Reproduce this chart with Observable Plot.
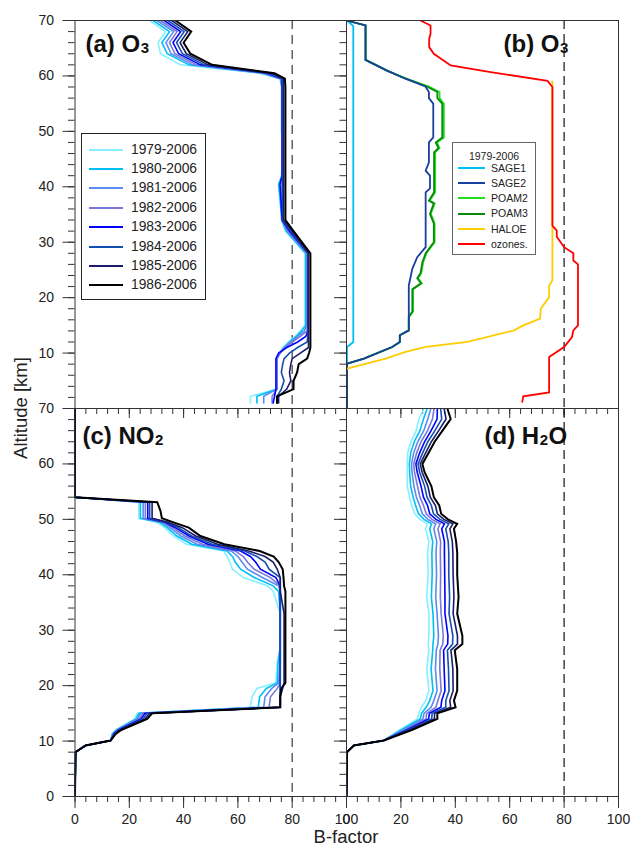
<!DOCTYPE html>
<html><head><meta charset="utf-8">
<script src="https://cdn.jsdelivr.net/npm/d3@7"></script>
<script src="https://cdn.jsdelivr.net/npm/@observablehq/plot@0.6"></script>
<style>
body{margin:0;background:#fff;font-family:"Liberation Sans",Arial,sans-serif;}
#chart{position:relative;width:633px;height:858px;overflow:hidden;}
.lg{position:absolute;background:#fff;box-sizing:border-box;}
.lg .sw{position:absolute;}
.lg .tx{position:absolute;white-space:nowrap;line-height:1;}
.axl{position:absolute;font-size:18.5px;color:#222;white-space:nowrap;line-height:1;}
</style></head>
<body><div id="chart"></div>
<script>
// ---------------- DATA ----------------
const xMajor = [0, 20, 40, 60, 80, 100];
const xMinor = [0, 4, 8, 12, 16, 20, 24, 28, 32, 36, 40, 44, 48, 52, 56, 60, 64, 68, 72, 76, 80, 84, 88, 92, 96, 100];
const yMajorTop = [10, 20, 30, 40, 50, 60, 70];
const yMajorBottom = [0, 10, 20, 30, 40, 50, 60, 70];
const yMinor = [0, 2, 4, 6, 8, 10, 12, 14, 16, 18, 20, 22, 24, 26, 28, 30, 32, 34, 36, 38, 40, 42, 44, 46, 48, 50, 52, 54, 56, 58, 60, 62, 64, 66, 68, 70];
const refLine = [80];

const periods = ["1979-2006", "1980-2006", "1981-2006", "1982-2006", "1983-2006", "1984-2006", "1985-2006", "1986-2006"];
const periodColors = ["#86f0ff", "#00bff2", "#5a8cf0", "#7a78d8", "#0000ff", "#1450b0", "#1c1c6e", "#000000"];

// (a) O3 — altitude grid and B-factor per period
const altA = [70, 68, 66, 64, 62, 60.5, 59.5, 58, 50, 48, 42, 40.5, 34, 32, 28, 15, 14, 13, 12, 11, 10, 9, 8, 6.5, 5, 3.5, 2.2, 1];
const a1979 = [27.5, 33.3, 30.6, 31.5, 38.8, 68, 75.6, 76, 76, 76.8, 76, 76, 76, 77.5, 84.6, 84.6, 83, 81, 78.5, 76.5, 75.5, 74.4, 74.4, 74.4, 74.4, 74.4, 64.6, 64.6];
const a1980 = [28.8, 34.8, 32, 34, 42, 69, 75.6, 76.2, 76.2, 76.2, 76.2, 75, 76.2, 77.8, 85, 85, 83.5, 81.5, 79, 77, 75.5, 74.4, 74.4, 74.4, 74.4, 74.4, 67, 67];
const a1981 = [30.2, 36.3, 33.5, 35.4, 43.4, 69.5, 75.8, 76.2, 76.2, 76.2, 76.2, 76.2, 76.2, 78.2, 85.3, 85.3, 84.5, 82, 79.5, 77, 75.5, 74.4, 74.4, 74.4, 74.4, 74.4, 69.5, 69.5];
const a1982 = [31.5, 37.6, 34.8, 36.8, 44.8, 70, 76, 76.3, 76.3, 76.3, 76.3, 76.3, 76.3, 78.5, 85.5, 85.5, 85.5, 83, 80, 77.5, 75.5, 74.4, 74.4, 74.4, 74.4, 74.4, 72.6, 72.6];
const a1983 = [32.9, 38.9, 36.1, 38.2, 46.2, 70.8, 76.2, 76.3, 76.3, 76.3, 76.3, 75.5, 76.3, 79, 85.8, 85.8, 85.8, 85, 82, 78, 75, 74, 74, 74, 74, 74, 73.5, 73];
const a1984 = [34.2, 40.2, 37.4, 39.6, 47.6, 71.5, 76.3, 76.5, 76.5, 76.5, 76.5, 76.5, 76.5, 79.5, 85.8, 85.8, 85.8, 85.8, 85.5, 82, 79, 77, 76.5, 76, 77, 76, 74.5, 74.5];
const a1985 = [35.6, 41.5, 38.7, 41, 49, 72.5, 76.8, 76.8, 76.8, 76.8, 76.8, 76.8, 76.8, 80, 86, 86, 86, 86, 86, 86, 83, 80, 79.5, 79, 79.5, 78, 75, 75];
const a1986 = [37, 42.8, 40, 42.5, 50.5, 73.5, 77.3, 77.5, 77.5, 77.5, 77.5, 77.5, 77.5, 80.5, 86.7, 86.7, 86.7, 86.7, 86.7, 86.7, 86.2, 85.5, 82.4, 81.8, 80.5, 80.5, 74.4, 74.4];

// (b) O3 by instrument, 1979-2006
const instruments = ["SAGE1", "SAGE2", "POAM2", "POAM3", "HALOE", "ozones."];
const instrumentColors = ["#00bff2", "#1a3fa0", "#22dd22", "#0a8a0a", "#ffcc00", "#ff0000"];
const sage1Alt = [70, 69, 12, 11.1, 0];
const sage1Val = [0.2, 2.5, 2.5, 0.2, 0.2];
const sage2Alt = [70, 69.1, 62.9, 61, 59.5, 58.1, 57.1, 56, 55, 48.9, 48, 44.4, 42.9, 42, 39.7, 39, 29.1, 27.3, 25.2, 22.2, 14.1, 13.2, 12, 11.1, 9.0, 8.1, 0];
const sage2Val = [0, 7, 7, 14.7, 21.7, 29, 30.3, 30.3, 31.9, 31.9, 30.3, 30.3, 29.1, 30.7, 30.7, 29.1, 29.1, 26, 24.2, 22.9, 22.9, 19.6, 19.6, 16.8, 6.4, 0.2, 0.2];
const poamAlt = [70, 69.1, 62.9, 61, 59.5, 58.1, 57.1, 56, 55, 48.9, 48, 47, 46.2, 39, 37.5, 37, 35.1, 33.4, 30, 28, 26.4, 24.4, 23.5, 22.6, 21.5, 17.5, 16.5, 14.1, 13.2, 12, 11.1, 9, 8.1, 0];
const poam2Val = [0, 7, 7, 14.7, 22, 30.3, 34.2, 34.2, 35.8, 35.8, 33.3, 34.2, 32.6, 32.6, 30.6, 32.4, 31, 32.4, 32.4, 29.4, 28.2, 27.5, 26.3, 27.7, 24.5, 24.5, 22.9, 22.9, 19.6, 19.6, 16.8, 6.4, 0.2, 0.2];
const poam3Val = [0, 7, 7, 14.7, 21.7, 29.5, 33.4, 33.4, 35.2, 35.2, 32.8, 33.8, 32.2, 32.2, 30.3, 32.1, 30.7, 32.1, 32.1, 29.1, 27.9, 27.2, 26, 27.4, 24.2, 24.2, 22.9, 22.9, 19.6, 19.6, 16.8, 6.4, 0.2, 0.2];
const haloeAlt = [59, 33, 23.1, 22.2, 20.1, 18, 16.2, 15, 14.1, 12, 11.1, 10.2, 9, 7.2];
const haloeVal = [75.7, 75.7, 75.7, 74.5, 74.5, 71.4, 71.2, 65, 61.6, 44.4, 29.1, 21.7, 14.4, 0.2];
const sondeAlt = [70, 69.1, 67.6, 66.7, 65.2, 64, 61.9, 60.7, 59.1, 58, 33, 32.1, 31, 29.1, 28, 26.7, 26, 15, 14.1, 12.9, 11.1, 9.3, 2.9, 2.2, 1.2];
const sondeVal = [27.2, 30.9, 30.9, 30.4, 30.4, 32.1, 38.3, 53, 73.9, 75.7, 75.7, 77.3, 77.3, 80, 83.4, 83.4, 85.1, 85.1, 83.4, 82.9, 80, 74.5, 74.5, 65, 64.6];

// (c) NO2
const altC = [70, 54, 53.1, 51.5, 50.2, 49.5, 48.5, 47, 45.5, 44.3, 43.3, 42.3, 41, 39.5, 38, 37, 33, 27, 24, 20.5, 19.5, 18, 16.1, 15, 14, 12, 11.3, 10.1, 9.2, 8, 0];
const c1979 = [0, 0, 23.5, 23.5, 23.5, 30, 33, 36.2, 41, 54.8, 56, 57, 58, 62, 71, 73, 75.6, 75.6, 74.4, 74, 67, 65.2, 64.6, 22.9, 22, 15, 13.6, 13.1, 3.9, 0.2, 0];
const c1980 = [0, 0, 24.1, 24.1, 24.1, 31, 34, 37.5, 43, 56, 58, 59, 61, 66, 73, 75, 75.6, 75.6, 74.8, 74.5, 70.5, 68, 67.5, 23.5, 22.5, 15.3, 13.8, 13.1, 3.9, 0.2, 0];
const c1981 = [0, 0, 25.1, 25.1, 25.1, 32, 35, 39, 45, 57.5, 60, 61.5, 63.5, 69, 75, 75.6, 75.6, 75.6, 75.6, 75, 72.5, 70, 69.5, 24.2, 23, 15.5, 14, 13.1, 3.9, 0.2, 0];
const c1982 = [0, 0, 25.9, 25.9, 25.9, 32.5, 36, 40.5, 47, 59, 62, 63.5, 66, 72, 75.6, 75.6, 75.6, 75.6, 75.6, 75.6, 74.5, 72, 71.5, 25, 23.6, 15.8, 14.2, 13.1, 3.9, 0.2, 0];
const c1983 = [0, 0, 26.8, 26.8, 26.8, 33, 37, 42, 49, 61, 64.6, 66.5, 68.3, 74, 75.6, 75.6, 75.6, 75.6, 75.6, 75.6, 75.6, 75.6, 75.6, 25.8, 24.3, 16, 14.4, 13.1, 3.9, 0.2, 0];
const c1984 = [0, 0, 27.5, 27.5, 27.5, 33.5, 38, 43, 50.5, 62.5, 67, 70, 71.5, 75.6, 75.6, 75.6, 75.6, 75.6, 75.6, 75.6, 75.6, 75.6, 75.6, 26.6, 25, 16.3, 14.6, 13.1, 3.9, 0.2, 0];
const c1985 = [0, 0, 28.4, 28.4, 28.4, 34, 39.5, 44.5, 52.5, 64, 70, 73, 74.5, 75.6, 75.6, 75.6, 77, 77, 77, 77, 76.5, 75.6, 75.6, 27.5, 25.8, 16.6, 14.8, 13.1, 3.9, 0.2, 0];
const c1986 = [0, 0, 30.3, 31.5, 32, 36, 41.9, 46.2, 55, 68, 73.2, 75, 76.5, 76.8, 77, 77.5, 77.5, 77.5, 77.5, 77.5, 76, 75.6, 75.6, 28.4, 26.6, 17, 15, 13.1, 3.9, 0.2, 0];

// (d) H2O
const altD = [70, 68.1, 66, 64, 62, 60, 58.5, 56, 54, 52.5, 51, 50, 49.2, 48.3, 46, 44, 40, 36, 33, 29, 27.5, 26.4, 23, 19.1, 17.3, 16.1, 15, 14, 12, 10.1, 9.2, 8, 0];
const d1979 = [28.5, 26.6, 25.6, 23.7, 22.5, 22.3, 22.3, 22.3, 23.2, 24.0, 25.1, 27.0, 29.7, 29.1, 30.3, 29.8, 30.0, 29.5, 30.3, 30.3, 30.0, 30.3, 29.5, 30.3, 29.1, 27.5, 26.6, 26.0, 19.5, 13.7, 2.7, 0.2, 0];
const d1980 = [29.7, 28.3, 27.0, 24.9, 23.6, 23.1, 23.2, 23.6, 24.5, 25.4, 26.5, 28.5, 31.3, 30.6, 31.7, 31.4, 31.5, 31.2, 31.8, 32.1, 31.8, 31.7, 31.1, 31.8, 30.6, 29.3, 27.6, 27.1, 20.1, 13.7, 2.7, 0.2, 0];
const d1981 = [31.0, 29.9, 28.4, 26.2, 24.7, 23.9, 24.1, 24.8, 25.7, 26.9, 27.9, 29.9, 32.8, 32.1, 33.2, 32.9, 33.1, 32.8, 33.3, 33.8, 33.6, 33.0, 32.7, 33.3, 32.1, 31.1, 28.5, 28.1, 20.8, 13.7, 2.7, 0.2, 0];
const d1982 = [32.2, 31.6, 29.8, 27.4, 25.8, 24.7, 25.0, 26.1, 27.0, 28.3, 29.3, 31.4, 34.4, 33.6, 34.6, 34.5, 34.6, 34.5, 34.8, 35.6, 35.4, 34.4, 34.3, 34.8, 33.6, 32.9, 29.5, 29.2, 21.4, 13.7, 2.7, 0.2, 0];
const d1983 = [33.4, 33.3, 31.1, 28.7, 26.9, 25.5, 26.0, 27.4, 28.3, 29.8, 30.6, 32.9, 36.0, 35.0, 36.0, 36.0, 36.1, 36.2, 36.2, 37.3, 37.2, 35.7, 35.9, 36.2, 35.0, 34.7, 30.5, 30.2, 22.1, 13.7, 2.7, 0.2, 0];
const d1984 = [34.6, 35.0, 32.5, 29.9, 28.0, 26.3, 26.9, 28.7, 29.6, 31.2, 32.0, 34.4, 37.6, 36.5, 37.4, 37.6, 37.6, 37.9, 37.7, 39.1, 39.0, 37.1, 37.5, 37.7, 36.5, 36.5, 31.5, 31.3, 22.7, 13.7, 2.7, 0.2, 0];
const d1985 = [35.9, 36.6, 33.9, 31.2, 29.1, 27.1, 27.8, 29.9, 30.8, 32.7, 33.4, 35.8, 39.1, 38.0, 38.9, 39.1, 39.2, 39.5, 39.2, 40.8, 40.8, 38.4, 39.1, 39.2, 38.0, 38.3, 32.4, 32.3, 23.4, 13.7, 2.7, 0.2, 0];
const d1986 = [37.1, 38.3, 35.3, 32.4, 30.2, 27.9, 28.7, 31.2, 32.1, 34.1, 34.8, 37.3, 40.7, 39.5, 40.3, 40.7, 40.7, 41.2, 40.7, 42.6, 42.6, 39.8, 40.7, 40.7, 39.5, 40.1, 33.4, 33.4, 24.0, 13.7, 2.7, 0.2, 0];

const panelTitles = [["(a) O", "3", ""], ["(b) O", "3", ""], ["(c) NO", "2", ""], ["(d) H", "2", "O"]];
const xTitle = "B-factor";
const yTitle = "Altitude [km]";
const legendBTitle = "1979-2006";

// ---------------- DRAWING ----------------
const W = 633, H = 858;
const FONT = "'Liberation Sans', Arial, Helvetica, sans-serif";
const chart = document.getElementById("chart");

function rows(alts, vals) { return alts.map((a, i) => ({alt: a, val: vals[i]})); }

function lineMark(alts, vals, color, width) {
  return Plot.line(rows(alts, vals), {x: "val", y: "alt", stroke: color, strokeWidth: width, strokeLinejoin: "miter", strokeMiterlimit: 3, clip: true});
}

function axesMarks(isLeft, isBottom) {
  const m = [];
  m.push(Plot.axisY({ticks: yMinor, anchor: "left", tickSize: 6.5, tickFormat: () => "", label: null, stroke: "#333"}));
  m.push(Plot.axisY({ticks: isBottom ? yMajorBottom : yMajorTop, anchor: "left", tickSize: 12, tickPadding: 9,
    tickFormat: isLeft ? (d => String(d)) : (() => ""), label: null, stroke: "#333", fill: "#222", fontSize: 14}));
  m.push(Plot.axisX({ticks: xMinor, anchor: "bottom", tickSize: 6, tickFormat: () => "", label: null, stroke: "#333"}));
  m.push(Plot.axisX({ticks: xMajor, anchor: "bottom", tickSize: isBottom ? 12 : 10, tickPadding: 6,
    tickFormat: isBottom ? (d => String(d)) : (() => ""), label: null, stroke: "#333", fill: "#222", fontSize: 14}));
  return m;
}

function titleMarks(parts, dx, dy) {
  const ctx = document.createElement("canvas").getContext("2d");
  ctx.font = "bold 24px " + FONT;
  const w1 = ctx.measureText(parts[0]).width;
  ctx.font = "bold 15px " + FONT;
  const w2 = ctx.measureText(parts[1]).width;
  const common = {frameAnchor: "top-left", textAnchor: "start", lineAnchor: "top", fontWeight: "bold", fill: "#111", text: d => d};
  const m = [
    Plot.text([parts[0]], {...common, dx: dx, dy: dy, fontSize: 24}),
    Plot.text([parts[1]], {...common, dx: dx + w1 + 0.5, dy: dy + 8, fontSize: 15})
  ];
  if (parts[2]) m.push(Plot.text([parts[2]], {...common, dx: dx + w1 + w2 + 1, dy: dy, fontSize: 24}));
  return m;
}

function makePanel(L, R, T, B, marks) {
  const svg = Plot.plot({
    width: W, height: H,
    marginLeft: L, marginRight: W - R, marginTop: T, marginBottom: H - B,
    x: {domain: [0, 100]}, y: {domain: [0, 70]},
    style: {background: "transparent", fontFamily: FONT, fontSize: "14px", color: "#222", overflow: "visible"},
    marks
  });
  svg.style.position = "absolute"; svg.style.left = "0px"; svg.style.top = "0px";
  chart.appendChild(svg);
}

const XL0 = 74.5, XM = 346, XR1 = 618, YT = 20, YM = 408, YB = 796;

// panel (a)
const aSeries = [a1979, a1980, a1981, a1982, a1983, a1984, a1985, a1986];
makePanel(XL0, XM, YT, YM, [
  Plot.ruleX(refLine, {stroke: "#555", strokeWidth: 1.4, strokeDasharray: "9,6"}),
  ...aSeries.map((v, i) => lineMark(altA, v, periodColors[i], i === 7 ? 2 : 1.6)),
  ...axesMarks(true, false),
  Plot.frame({stroke: "#333", strokeWidth: 1}),
  ...titleMarks(panelTitles[0], 10.5, 14)
]);

// panel (b)
makePanel(XM, XR1, YT, YM, [
  Plot.ruleX(refLine, {stroke: "#111", strokeWidth: 1.2, strokeDasharray: "9,5"}),
  lineMark(sage1Alt, sage1Val, instrumentColors[0], 1.8),
  lineMark(poamAlt, poam2Val, instrumentColors[2], 1.8),
  lineMark(poamAlt, poam3Val, instrumentColors[3], 1.8),
  lineMark(sage2Alt, sage2Val, instrumentColors[1], 1.8),
  lineMark(haloeAlt, haloeVal, instrumentColors[4], 1.8),
  lineMark(sondeAlt, sondeVal, instrumentColors[5], 1.8),
  ...axesMarks(false, false),
  Plot.frame({stroke: "#333", strokeWidth: 1}),
  ...titleMarks(panelTitles[1], 157, 14)
]);

// panel (c)
const cSeries = [c1979, c1980, c1981, c1982, c1983, c1984, c1985, c1986];
makePanel(XL0, XM, YM, YB, [
  Plot.ruleX(refLine, {stroke: "#555", strokeWidth: 1.4, strokeDasharray: "9,6"}),
  ...cSeries.map((v, i) => lineMark(altC, v, periodColors[i], i === 7 ? 2 : 1.6)),
  ...axesMarks(true, true),
  Plot.frame({stroke: "#333", strokeWidth: 1}),
  ...titleMarks(panelTitles[2], 7.5, 18)
]);

// panel (d)
const dSeries = [d1979, d1980, d1981, d1982, d1983, d1984, d1985, d1986];
makePanel(XM, XR1, YM, YB, [
  Plot.ruleX(refLine, {stroke: "#111", strokeWidth: 1.2, strokeDasharray: "9,5"}),
  ...dSeries.map((v, i) => lineMark(altD, v, periodColors[i], i === 7 ? 2 : 1.6)),
  ...axesMarks(false, true),
  Plot.frame({stroke: "#333", strokeWidth: 1}),
  ...titleMarks(panelTitles[3], 138, 18)
]);

// ---------------- LEGENDS (HTML) ----------------
function legend(cfg) {
  const box = document.createElement("div");
  box.className = "lg";
  Object.assign(box.style, {left: cfg.left + "px", top: cfg.top + "px", width: cfg.width + "px", height: cfg.height + "px",
    border: cfg.border, fontFamily: "'Liberation Sans', Arial, sans-serif", fontSize: cfg.fontSize + "px", color: "#222"});
  if (cfg.title) {
    const t = document.createElement("div");
    t.className = "tx";
    t.textContent = cfg.title;
    Object.assign(t.style, {left: "0px", right: "0px", textAlign: "center", top: (cfg.titleY - cfg.fontSize * 0.5) + "px"});
    box.appendChild(t);
  }
  cfg.labels.forEach((lab, i) => {
    const cy = cfg.firstY + i * cfg.step;
    const sw = document.createElement("div");
    sw.className = "sw";
    Object.assign(sw.style, {left: cfg.swX0 + "px", width: (cfg.swX1 - cfg.swX0) + "px", top: cy + "px", background: cfg.colors[i], height: cfg.swH + "px", marginTop: (-cfg.swH / 2) + "px"});
    box.appendChild(sw);
    const t = document.createElement("div");
    t.className = "tx";
    t.textContent = lab;
    Object.assign(t.style, {left: cfg.textX + "px", top: (cy - cfg.fontSize * 0.5) + "px"});
    box.appendChild(t);
  });
  chart.appendChild(box);
}

legend({left: 81, top: 133, width: 125, height: 167, border: "1.2px solid #222", fontSize: 13.8,
  labels: periods, colors: periodColors, firstY: 15.5, step: 19.4, swX0: 7, swX1: 41, swH: 2, textX: 49});
legend({left: 452, top: 142, width: 84, height: 113, border: "1.6px solid #666", fontSize: 10.5, title: legendBTitle, titleY: 13,
  labels: instruments, colors: instrumentColors, firstY: 25, step: 15.2, swX0: 5, swX1: 32, swH: 2, textX: 38});

// ---------------- AXIS TITLES ----------------
const xt = document.createElement("div");
xt.className = "axl"; xt.textContent = xTitle;
xt.style.left = XM + "px"; xt.style.top = "837px"; xt.style.transform = "translate(-50%, -50%)";
chart.appendChild(xt);
const yt = document.createElement("div");
yt.className = "axl"; yt.textContent = yTitle;
yt.style.left = "21px"; yt.style.top = YM + "px"; yt.style.transform = "translate(-50%, -50%) rotate(-90deg)";
chart.appendChild(yt);
</script>
</body></html>
